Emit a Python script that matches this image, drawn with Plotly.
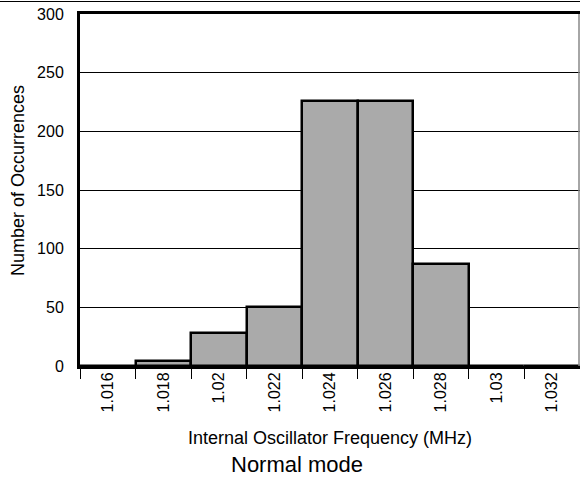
import plotly.graph_objects as go

categories = ["1.016", "1.018", "1.02", "1.022", "1.024", "1.026", "1.028", "1.03", "1.032"]
counts = [0, 4, 28, 50, 226, 226, 87, 0, 0]
y_ticks = [0, 50, 100, 150, 200, 250, 300]

FONT = "Liberation Sans, Arial, sans-serif"

fig = go.Figure()
fig.add_trace(go.Bar(
    x=categories, y=counts,
    marker=dict(color="#aaaaaa", line=dict(color="black", width=2.5)),
    width=1.0,
))

W, H = 580, 478
L, R, T, B = 80, 0, 14, 112
ph = H - T - B
pw = W - L - R


def py(pix):
    return (H - B - pix) / ph


fig.update_layout(
    width=W, height=H,
    margin=dict(l=L, r=R, t=T, b=B, autoexpand=False),
    paper_bgcolor="white", plot_bgcolor="white",
    bargap=0, showlegend=False,
    font=dict(family=FONT, color="black"),
    xaxis=dict(
        type="category", automargin=False,
        tickangle=-90,
        tickfont=dict(size=16, family=FONT, color="black"),
        ticks="outside", tickson="boundaries", ticklen=10, tickwidth=1, tickcolor="black",
        ticklabelstandoff=-3,
        showline=True, linecolor="black", linewidth=3, mirror=True,
        showgrid=False,
    ),
    yaxis=dict(
        range=[0, 300], automargin=False,
        tickvals=y_ticks,
        tickfont=dict(size=16, family=FONT, color="black"),
        ticks="", ticklabelstandoff=10,
        showline=True, linecolor="black", linewidth=3,
        showgrid=True, gridcolor="black", gridwidth=1,
        zeroline=False,
    ),
    annotations=[
        dict(text="Internal Oscillator Frequency (MHz)", xref="paper", yref="paper",
             x=(330 - L) / pw, y=py(438), xanchor="center", yanchor="middle",
             showarrow=False, font=dict(size=18, family=FONT, color="black")),
        dict(text="Normal mode", xref="paper", yref="paper",
             x=(296.5 - L) / pw, y=py(464), xanchor="center", yanchor="middle",
             showarrow=False, font=dict(size=22, family=FONT, color="black")),
        dict(text="Number of Occurrences", xref="paper", yref="paper",
             x=(18 - L) / pw, y=py(181), xanchor="center", yanchor="middle", textangle=-90,
             showarrow=False, font=dict(size=18, family=FONT, color="black")),
        # thin rule across the very top of the image
        dict(text=" ", xref="paper", yref="paper",
             x=-L / pw, y=py(1), xanchor="left", yanchor="middle",
             width=W, height=1, bgcolor="black", borderwidth=0, borderpad=0,
             showarrow=False, font=dict(size=1)),
    ],
    shapes=[
        dict(type="line", xref="paper", yref="paper", x0=0.998, x1=0.998, y0=0, y1=1,
             line=dict(color="#888888", width=1.5)),
    ],
)

fig.write_html("out.html", config={"displayModeBar": False},
               post_script="document.body.style.margin='0';")
